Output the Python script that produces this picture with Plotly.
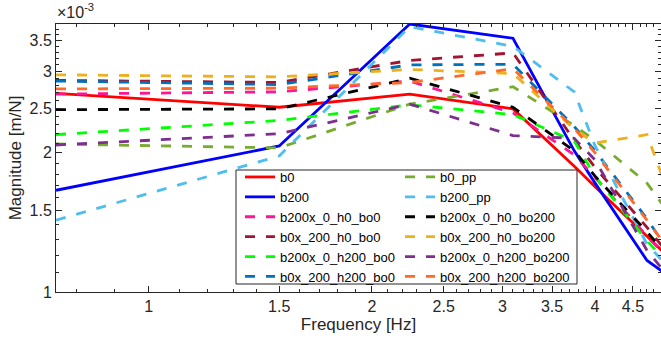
import plotly.graph_objects as go
import numpy as np

# Frequencies [Hz]
freq = [0.75, 1.5, 2.25, 3.1, 3.75, 4.0, 4.7, 5.0]

# Magnitudes in units of 1e-3 m/N
b0 = [2.69, 2.51, 2.68, 2.49, 1.87, 1.69, 1.32, 1.20]
b200 = [1.66, 2.07, 3.80, 3.54, 2.02, 1.72, 1.17, 1.09]
b200x_0_h0_bo0 = [2.68, 2.71, 2.86, 2.44, 1.98, 1.77, 1.32, 1.19]
b0x_200_h0_bo0 = [2.87, 2.84, 3.17, 3.29, 2.13, 1.86, 1.38, 1.22]
b200x_0_h200_bo0 = [2.19, 2.35, 2.54, 2.42, 2.12, 1.78, 1.29, 1.16]
b0x_200_h200_bo0 = [2.86, 2.81, 3.10, 3.11, 2.28, 2.02, 1.44, 1.24]
b0_pp = [2.09, 2.05, 2.55, 2.78, 2.29, 2.13, 1.72, 1.50]
b200_pp = [1.43, 1.97, 3.75, 3.40, 2.71, 2.07, 1.27, 1.14]
b200x_0_h0_bo200 = [2.48, 2.49, 2.90, 2.51, 2.02, 1.78, 1.35, 1.20]
b0x_200_h0_bo200 = [2.95, 2.92, 3.03, 2.97, 2.25, 2.10, 2.19, 1.67]
b200x_0_h200_bo200 = [2.08, 2.20, 2.55, 2.18, 2.15, 1.93, 1.23, 1.09]
b0x_200_h200_bo200 = [2.75, 2.76, 2.84, 3.04, 2.26, 2.00, 1.43, 1.25]

y_ticks = [1, 1.5, 2, 2.5, 3, 3.5]
x_ticks = [1, 1.5, 2, 2.5, 3, 3.5, 4, 4.5]

series = [
    ("b0", b0, "#FF0000", "solid", 1),
    ("b200", b200, "#0000FF", "solid", 1),
    ("b200x_0_h0_bo0", b200x_0_h0_bo0, "#FF1493", "dash", 1),
    ("b0x_200_h0_bo0", b0x_200_h0_bo0, "#A2142F", "dash", 1),
    ("b200x_0_h200_bo0", b200x_0_h200_bo0, "#00FF00", "dash", 1),
    ("b0x_200_h200_bo0", b0x_200_h200_bo0, "#0072BD", "dash", 1),
    ("b0_pp", b0_pp, "#77AC30", "dash", 2),
    ("b200_pp", b200_pp, "#4DBEEE", "dash", 2),
    ("b200x_0_h0_bo200", b200x_0_h0_bo200, "#000000", "dash", 2),
    ("b0x_200_h0_bo200", b0x_200_h0_bo200, "#EDB120", "dash", 2),
    ("b200x_0_h200_bo200", b200x_0_h200_bo200, "#7E2F8E", "dash", 2),
    ("b0x_200_h200_bo200", b0x_200_h200_bo200, "#FF6A2A", "dash", 2),
]

fig = go.Figure()
for name, vals, color, dash, col in series:
    fig.add_trace(go.Scatter(
        x=freq, y=[v * 1e-3 for v in vals], mode="lines", name=name,
        line=dict(color=color, width=2.8, dash=("solid" if dash == "solid" else "10px,11px")),
        legend=("legend" if col == 1 else "legend2"),
    ))

W, H = 661, 341
L, R, T, B = 56, 0, 24, 49
pw, ph = W - L - R, H - T - B

def px_x(p):
    return (p - L) / pw

def px_y(p):
    return (H - B - p) / ph

axcol = "#262626"
font_fam = "Liberation Sans, Arial, sans-serif"

def minor_vals(lo, hi):
    out = []
    v = lo
    while v <= hi + 1e-9:
        out.append(round(v, 2))
        v += 0.1
    return out

x_minor = minor_vals(0.8, 4.9)
y_minor = [v * 1e-3 for v in minor_vals(1.0, 3.8)]

leg_font = dict(size=13, color="black", family=font_fam)

fig.update_layout(
    width=W, height=H,
    margin=dict(l=L, r=R, t=T, b=B),
    paper_bgcolor="white", plot_bgcolor="white",
    font=dict(family=font_fam, color=axcol, size=16),
    showlegend=True,
    legend=dict(x=px_x(240), y=px_y(162), xanchor="left", yanchor="top",
                bgcolor="rgba(0,0,0,0)", font=leg_font,
                itemwidth=30, tracegroupgap=0, borderwidth=0),
    legend2=dict(x=px_x(400), y=px_y(162), xanchor="left", yanchor="top",
                 bgcolor="rgba(0,0,0,0)", font=leg_font,
                 itemwidth=30, tracegroupgap=0, borderwidth=0),
    xaxis=dict(
        type="log", range=[np.log10(0.75), np.log10(4.909)],
        tickmode="array", tickvals=x_ticks, ticktext=[str(t) for t in x_ticks],
        ticks="inside", ticklen=6, tickcolor=axcol, tickwidth=1,
        showline=True, linecolor=axcol, linewidth=1, mirror="ticks",
        showgrid=False, zeroline=False,
        minor=dict(tickmode="array", tickvals=x_minor, ticks="inside", ticklen=3,
                   tickcolor=axcol, showgrid=False),
        title=dict(text="Frequency [Hz]", font=dict(size=17), standoff=0),
        tickfont=dict(size=16),
    ),
    yaxis=dict(
        type="log", range=[np.log10(1e-3), np.log10(3.80e-3)],
        tickmode="array", tickvals=[t * 1e-3 for t in y_ticks], ticktext=[str(t) for t in y_ticks],
        ticks="inside", ticklen=6, tickcolor=axcol, tickwidth=1,
        showline=True, linecolor=axcol, linewidth=1, mirror="ticks",
        showgrid=False, zeroline=False,
        minor=dict(tickmode="array", tickvals=y_minor, ticks="inside", ticklen=3,
                   tickcolor=axcol, showgrid=False),
        title=dict(text="Magnitude [m/N]", font=dict(size=17), standoff=3),
        tickfont=dict(size=16),
    ),
    shapes=[dict(type="rect", xref="paper", yref="paper",
                 x0=px_x(236), x1=px_x(577), y0=px_y(284), y1=px_y(170),
                 line=dict(color=axcol, width=1), fillcolor="white", layer="above")],
    annotations=[dict(text="×10<sup>-3</sup>", xref="paper", yref="paper",
                      x=px_x(55), y=px_y(23), xanchor="left", yanchor="bottom",
                      showarrow=False, font=dict(size=16, color=axcol))],
)

fig.write_html("out.html")
